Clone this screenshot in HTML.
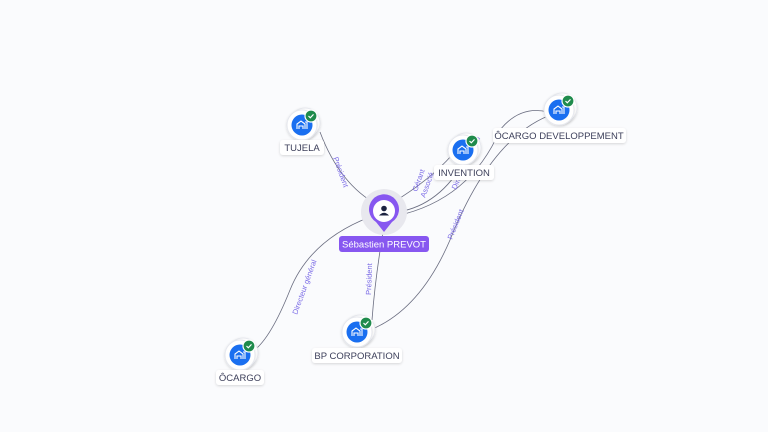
<!DOCTYPE html>
<html><head><meta charset="utf-8"><style>
html,body{margin:0;padding:0;background:#fafbfd;}
svg{display:block;font-family:"Liberation Sans",sans-serif;}
.lbl{font-size:9.5px;fill:#3c3f5a;}
.el{font-size:7.5px;fill:#7a6ae6;}
</style></head><body>
<svg width="768" height="432" viewBox="0 0 768 432" xmlns="http://www.w3.org/2000/svg">
<defs>
<filter id="sh" x="-30%" y="-30%" width="160%" height="160%"><feDropShadow dx="0" dy="1" stdDeviation="1.2" flood-color="#000" flood-opacity="0.15"/></filter>
<g id="co">
<circle cx="3" cy="-2" r="15" fill="#fff" stroke="#e6e8ee" filter="url(#sh)"/>
<circle r="15" fill="#fff" stroke="#e6e8ee" filter="url(#sh)"/>
<circle r="10.5" fill="#1a6ff0"/>
<path d="M-5 4 V-1 L-1 -4 L3 -1 V4 M-3 4 V1 H1 V4 M3 -3 H5 V4" fill="none" stroke="#fff" stroke-width="1.1"/>
<circle cx="9" cy="-9" r="6" fill="#1f8b4c" stroke="#fff" stroke-width="1.2"/>
<path d="M6.5 -9 L8.3 -7.2 L11.5 -10.6" fill="none" stroke="#fff" stroke-width="1.2"/>
</g>
</defs>
<g fill="none" stroke="#6a6d80" stroke-width="0.8">
<path d="M378 205 Q340 185 320 132"/>
<path d="M392 203 Q430 180 452 155"/>
<path d="M398 212 Q440 205 465 160"/>
<path d="M396 216 Q470 200 500 130 Q520 105 548 112"/>
<path d="M370 217 Q310 240 290 290 Q270 340 252 352"/>
<path d="M383 232 Q375 280 372 320"/>
<path d="M370 330 Q420 310 450 240 Q490 140 548 116"/>
</g>
<g class="el">
<text transform="translate(333,158) rotate(70)">Président</text>
<text transform="translate(417,192) rotate(-70)">Gérant</text>
<text transform="translate(425,198) rotate(-70)">Associé</text>
<text transform="translate(456,190) rotate(-65)">Directeur général</text>
<text transform="translate(297,315) rotate(-70)">Directeur général</text>
<text transform="translate(371,295) rotate(-88)">Président</text>
<text transform="translate(452,240) rotate(-68)">Président</text>
</g>
<circle cx="384" cy="212" r="23" fill="#e8e8ee"/>
<path d="M384 232 L376 222 A15 15 0 1 1 392 222 Z" fill="#8757f0"/>
<circle cx="384" cy="211" r="11" fill="#fff"/>
<circle cx="384" cy="208.5" r="2.8" fill="#1c2340"/>
<path d="M379 215.5 Q384 210 389 215.5 Z" fill="#1c2340"/>
<rect x="339" y="236" width="90" height="16" rx="3" fill="#8757f0"/>
<text x="384" y="247.5" text-anchor="middle" font-size="9.5" fill="#fff">Sébastien PREVOT</text>
<use href="#co" x="302" y="125"/>
<use href="#co" x="463" y="150"/>
<use href="#co" x="559" y="110"/>
<use href="#co" x="357" y="332"/>
<use href="#co" x="240" y="355"/>
<g filter="url(#sh)">
<rect x="280" y="140" width="44" height="15" rx="3" fill="#fff"/>
<rect x="434" y="165" width="60" height="15" rx="3" fill="#fff"/>
<rect x="493" y="128" width="133" height="15" rx="3" fill="#fff"/>
<rect x="312" y="348" width="90" height="15" rx="3" fill="#fff"/>
<rect x="216" y="370" width="48" height="15" rx="3" fill="#fff"/>
</g>
<text class="lbl" x="302" y="151" text-anchor="middle">TUJELA</text>
<text class="lbl" x="464" y="176" text-anchor="middle">INVENTION</text>
<text class="lbl" x="559" y="139" text-anchor="middle">ÔCARGO DEVELOPPEMENT</text>
<text class="lbl" x="357" y="359" text-anchor="middle">BP CORPORATION</text>
<text class="lbl" x="240" y="381" text-anchor="middle">ÔCARGO</text>
</svg>
</body></html>
